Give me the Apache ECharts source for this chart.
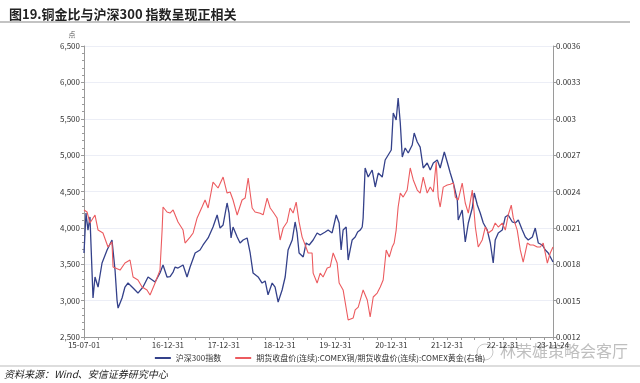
<!DOCTYPE html>
<html><head><meta charset="utf-8">
<script src="https://cdn.jsdelivr.net/npm/echarts@6/dist/echarts.min.js"></script>
<style>html,body{margin:0;padding:0;background:#fff}#c{width:640px;height:383px}</style>
</head><body><div id="c"></div>
<script>
const title = '图19.铜金比与沪深300 指数呈现正相关';
const sourceText = '资料来源：Wind、安信证券研究中心';
const watermark = '林荣雄策略会客厅';
const unitName = '点';
const seriesNames = ['沪深300指数', '期货收盘价(连续):COMEX铜/期货收盘价(连续):COMEX黄金(右轴)'];
const xTickLabels = ['2015-07-01','2016-12-31','2017-12-31','2018-12-31','2019-12-31','2020-12-31','2021-12-31','2022-12-31','2023-11-24'];
const leftTicks = [2500, 3000, 3500, 4000, 4500, 5000, 5500, 6000, 6500];
const rightTicks = [0.0012, 0.0015, 0.0018, 0.0021, 0.0024, 0.0027, 0.003, 0.0033, 0.0036];

const hsDates = ['2015-07-01','2015-07-14','2015-07-27','2015-08-09','2015-08-29','2015-09-11','2015-10-01','2015-10-27','2015-11-29','2015-12-31',
'2016-01-20','2016-02-02','2016-02-09','2016-03-06','2016-03-25','2016-04-14','2016-05-17','2016-06-18','2016-07-21','2016-08-23','2016-10-08','2016-11-09','2016-11-29','2016-12-25',
'2017-01-14','2017-02-03','2017-02-16','2017-03-07','2017-03-20','2017-04-09','2017-05-05','2017-05-25','2017-06-27','2017-07-29','2017-08-18','2017-09-20','2017-10-22','2017-11-18','2017-12-07','2017-12-27',
'2018-01-22','2018-02-04','2018-02-17','2018-03-02','2018-03-29','2018-04-17','2018-05-07','2018-06-02','2018-06-22','2018-07-11','2018-08-13','2018-09-08','2018-09-28','2018-10-17','2018-11-13','2018-12-02','2018-12-22',
'2019-01-17','2019-02-06','2019-02-25','2019-03-24','2019-04-12','2019-04-25','2019-05-08','2019-06-04','2019-06-23','2019-07-13','2019-08-08','2019-09-03','2019-09-23','2019-10-26','2019-11-14','2019-12-10',
'2020-01-06','2020-01-25','2020-02-07','2020-02-20','2020-03-11','2020-03-24','2020-04-06','2020-04-19','2020-05-09','2020-05-25','2020-06-11','2020-06-24','2020-06-30','2020-07-13','2020-08-02','2020-08-28','2020-09-17','2020-10-07','2020-11-02','2020-11-21','2020-12-11','2020-12-31',
'2021-01-13','2021-02-01','2021-02-14','2021-02-28','2021-03-13','2021-04-01','2021-04-21','2021-05-17','2021-05-30','2021-06-19','2021-07-08','2021-07-28','2021-08-23','2021-09-12','2021-10-02','2021-10-28','2021-11-16','2021-12-13',
'2022-01-01','2022-01-21','2022-02-10','2022-03-08','2022-03-14','2022-04-09','2022-04-29','2022-05-19','2022-06-14','2022-06-27','2022-07-17','2022-08-05','2022-08-25','2022-09-20','2022-10-10','2022-10-29','2022-11-11','2022-12-01','2022-12-27',
'2023-01-16','2023-02-04','2023-03-03','2023-03-22','2023-04-11','2023-05-07','2023-05-27','2023-06-15','2023-07-12','2023-07-31','2023-08-20','2023-09-15','2023-10-05','2023-10-24','2023-11-24'];
const hsValues = [3655,4205,3970,4150,3036,3325,3187,3517,3696,3833,
3420,3008,2898,3036,3187,3242,3173,3104,3187,3325,3256,3379,3489,3325,
3330,3393,3462,3448,3448,3489,3325,3462,3655,3696,3765,3861,4012,4177,3998,4040,
4342,4204,3861,4012,3874,3792,3833,3861,3655,3379,3325,3242,3270,3080,3242,3187,2981,
3146,3325,3696,3833,4081,3930,3655,3600,3792,3765,3833,3930,3902,3943,3970,3930,
4177,4067,3696,3970,4012,3558,3696,3833,3874,3943,3970,4012,4136,4823,4699,4795,4562,4754,4699,4933,5002,5070,
5579,5483,5785,5442,4974,5098,5029,5139,5304,5180,5111,4823,4892,4795,4892,4933,4823,5043,
4905,4754,4617,4383,4108,4246,3806,4067,4273,4479,4314,4204,4067,3970,3792,3517,3833,3930,3970,
4150,4177,4081,4067,4108,3970,3874,3833,3874,3998,3792,3765,3696,3655,3530];

const ratioDates = ['2015-07-01','2015-07-21','2015-08-09','2015-09-11','2015-10-01','2015-11-02','2015-12-05','2015-12-31',
'2016-01-07','2016-02-22','2016-03-25','2016-04-27','2016-05-17','2016-06-18','2016-07-15','2016-08-16','2016-09-05','2016-10-08','2016-11-09','2016-11-23','2016-11-29','2016-12-25',
'2017-01-14','2017-02-03','2017-03-07','2017-04-09','2017-04-22','2017-05-25','2017-06-14','2017-07-10','2017-08-11','2017-08-31','2017-09-20','2017-10-22','2017-11-24','2017-12-27',
'2018-01-22','2018-02-11','2018-03-02','2018-03-29','2018-04-30','2018-05-20','2018-06-09','2018-07-05','2018-07-24','2018-08-26','2018-09-15','2018-10-11','2018-10-31','2018-11-19','2018-12-15',
'2019-01-04','2019-01-24','2019-02-19','2019-03-10','2019-03-30','2019-04-19','2019-05-08','2019-05-28','2019-06-17','2019-07-06','2019-08-01','2019-08-08','2019-09-03','2019-09-23','2019-10-12','2019-11-08','2019-11-27','2019-12-17',
'2020-01-12','2020-01-25','2020-02-20','2020-03-24','2020-04-26','2020-05-09','2020-05-29','2020-06-30','2020-07-27','2020-08-15','2020-09-04','2020-09-30','2020-10-20','2020-11-08','2020-11-28','2020-12-18',
'2021-01-06','2021-01-19','2021-02-01','2021-02-14','2021-02-28','2021-03-19','2021-04-14','2021-05-04','2021-05-24','2021-06-19','2021-07-08','2021-07-28','2021-08-23','2021-09-12','2021-10-02','2021-10-21','2021-11-03','2021-11-16','2021-12-06',
'2022-01-01','2022-01-21','2022-02-10','2022-02-23','2022-03-14','2022-04-09','2022-04-29','2022-05-19','2022-06-14','2022-07-04','2022-07-23','2022-08-18','2022-09-07','2022-09-27','2022-10-23','2022-11-11','2022-12-01','2022-12-27',
'2023-01-16','2023-02-04','2023-02-24','2023-03-09','2023-04-04','2023-04-24','2023-05-13','2023-06-09','2023-06-28','2023-07-18','2023-08-13','2023-09-02','2023-09-21','2023-10-18','2023-11-06','2023-11-24'];
const ratioValues = [0.002248,0.002231,0.002140,0.002206,0.002082,0.002058,0.001942,0.001984,
0.001777,0.001752,0.001810,0.001835,0.001695,0.001670,0.001612,0.001588,0.001546,0.001645,0.001752,0.002082,0.002272,0.002231,
0.002222,0.002248,0.002149,0.002082,0.001975,0.002024,0.002058,0.002182,0.002272,0.002330,0.002264,0.002478,0.002429,0.002519,
0.002387,0.002396,0.002330,0.002206,0.002330,0.002346,0.002511,0.002264,0.002231,0.002220,0.002208,0.002346,0.002264,0.002231,0.002182,
0.002000,0.002099,0.002149,0.002264,0.002222,0.002313,0.002149,0.002024,0.001959,0.001893,0.001893,0.001727,0.001645,0.001727,0.001695,0.001769,0.001777,0.001893,
0.001810,0.001645,0.001588,0.001340,0.001357,0.001423,0.001447,0.001588,0.001505,0.001365,0.001530,0.001562,0.001612,0.001670,0.001918,0.001860,
0.001942,0.001975,0.002082,0.002272,0.002387,0.002354,0.002412,0.002594,0.002495,0.002412,0.002387,0.002519,0.002387,0.002437,0.002396,0.002643,0.002354,0.002272,0.002436,
0.002454,0.002460,0.002470,0.002354,0.002330,0.002470,0.002305,0.002222,0.002412,0.002107,0.001942,0.002000,0.002107,0.002058,0.002082,0.002140,0.002107,0.002140,
0.002082,0.002206,0.002288,0.002182,0.002082,0.001918,0.001818,0.001975,0.001959,0.001959,0.001942,0.001942,0.001975,0.001810,0.001893,0.001942];

function pad(n){ return (n<10?'0':'')+n; }
function isoUTC(t){ const d = new Date(t); return d.getUTCFullYear()+'-'+pad(d.getUTCMonth()+1)+'-'+pad(d.getUTCDate()); }
function parseUTC(s){ const p = s.split('-').map(Number); return Date.UTC(p[0], p[1]-1, p[2]); }
const dayAxis = [];
for (let t = parseUTC(xTickLabels[0]); t <= parseUTC(xTickLabels[xTickLabels.length-1]); t += 86400000) dayAxis.push(isoUTC(t));
const tickSet = new Set(xTickLabels);
dayAxis.forEach(d => { const md = d.slice(5); if (md === '03-31' || md === '06-30' || md === '09-30' || md === '12-31') tickSet.add(d); });
const fmtLabel = v => v.slice(2);

const FONT = '"Noto Sans CJK SC", "Noto Sans", sans-serif';
const axisColor = '#9a9a9a';
const colors = ['#34418a', '#ec5b5f'];
const chart = echarts.init(document.getElementById('c'), null, {renderer:'canvas'});

function baseGraphics(){
  return [
    {type: 'line', shape: {x1: 0, y1: 22, x2: 630, y2: 22}, style: {stroke: '#888', lineWidth: 1.2}},
    {type: 'line', shape: {x1: 0, y1: 366, x2: 640, y2: 366}, style: {stroke: '#aaa', lineWidth: 0.8}},
    {type: 'text', left: 4, top: 369, style: {text: sourceText, fontSize: 10, fontStyle: 'italic', fill: '#222', fontFamily: FONT}},
    {type: 'circle', shape: {cx: 485, cy: 352, r: 8}, style: {fill: 'none', stroke: '#c8c8c8', lineWidth: 1}},
    {type: 'text', left: 500, top: 343, style: {text: watermark, fontSize: 16, fill: 'rgba(170,170,170,0.75)', fontFamily: FONT}}
  ];
}

const option = {
  animation: false,
  textStyle: {fontFamily: FONT},
  title: {text: title, left: 4, top: 3, textStyle: {fontSize: 13, fontWeight: 'bold', color: '#222', fontFamily: FONT}},
  grid: {left: 84, right: 87, top: 46, bottom: 46},
  legend: {top: 354, left: 'center', itemWidth: 16, itemHeight: 2, itemGap: 14, padding: 0, icon: 'rect',
    textStyle: {fontSize: 8, color: '#333'}, data: seriesNames},
  xAxis: {
    type: 'category', data: dayAxis, boundaryGap: false,
    axisLine: {lineStyle: {color: axisColor}},
    axisTick: {show: true, interval: (i, v) => tickSet.has(v), length: 3, lineStyle: {color: axisColor}},
    splitLine: {show: false},
    axisLabel: {show: false}
  },
  yAxis: [
    {
      type: 'value', min: leftTicks[0], max: leftTicks[leftTicks.length-1], interval: 500,
      name: unitName, nameGap: 8, nameTextStyle: {fontSize: 7, color: '#555', padding: [0, 24, 0, 0]},
      axisLine: {show: true, lineStyle: {color: axisColor}},
      axisTick: {show: true, length: 3, lineStyle: {color: axisColor}},
      minorTick: {show: true, splitNumber: 5, length: 2, lineStyle: {color: axisColor}},
      splitLine: {show: true, lineStyle: {color: '#eceef6', width: 1}},
      axisLabel: {fontSize: 8, color: '#333', margin: 4, formatter: v => v.toLocaleString('en-US')}
    },
    {
      type: 'value', min: rightTicks[0], max: rightTicks[rightTicks.length-1], interval: 0.0003,
      position: 'right',
      axisLine: {show: true, lineStyle: {color: axisColor}},
      axisTick: {show: true, length: 3, lineStyle: {color: axisColor}},
      splitLine: {show: false},
      axisLabel: {fontSize: 8, color: '#333', margin: 3, formatter: v => String(parseFloat(v.toFixed(4)))}
    }
  ],
  series: [
    {name: seriesNames[0], type: 'line', yAxisIndex: 0, showSymbol: false, symbol: 'none',
     lineStyle: {color: colors[0], width: 1.3}, itemStyle: {color: colors[0]},
     data: hsDates.map((d,i) => [d, hsValues[i]])},
    {name: seriesNames[1], type: 'line', yAxisIndex: 1, showSymbol: false, symbol: 'none',
     lineStyle: {color: colors[1], width: 1.1}, itemStyle: {color: colors[1]},
     data: ratioDates.map((d,i) => [d, ratioValues[i]])}
  ],
  graphic: baseGraphics()
};
chart.setOption(option, true);

// date labels positioned through the x axis's own scale
const g = baseGraphics();
xTickLabels.forEach(d => {
  const px = chart.convertToPixel({xAxisIndex: 0}, d);
  if (typeof px === 'number' && isFinite(px)) {
    g.push({type: 'text', x: px, y: 341, style: {text: fmtLabel(d), fontSize: 8, fill: '#333', fontFamily: FONT, align: 'center', verticalAlign: 'top'}});
  }
});
option.graphic = g;
chart.setOption(option, true);
</script></body></html>
